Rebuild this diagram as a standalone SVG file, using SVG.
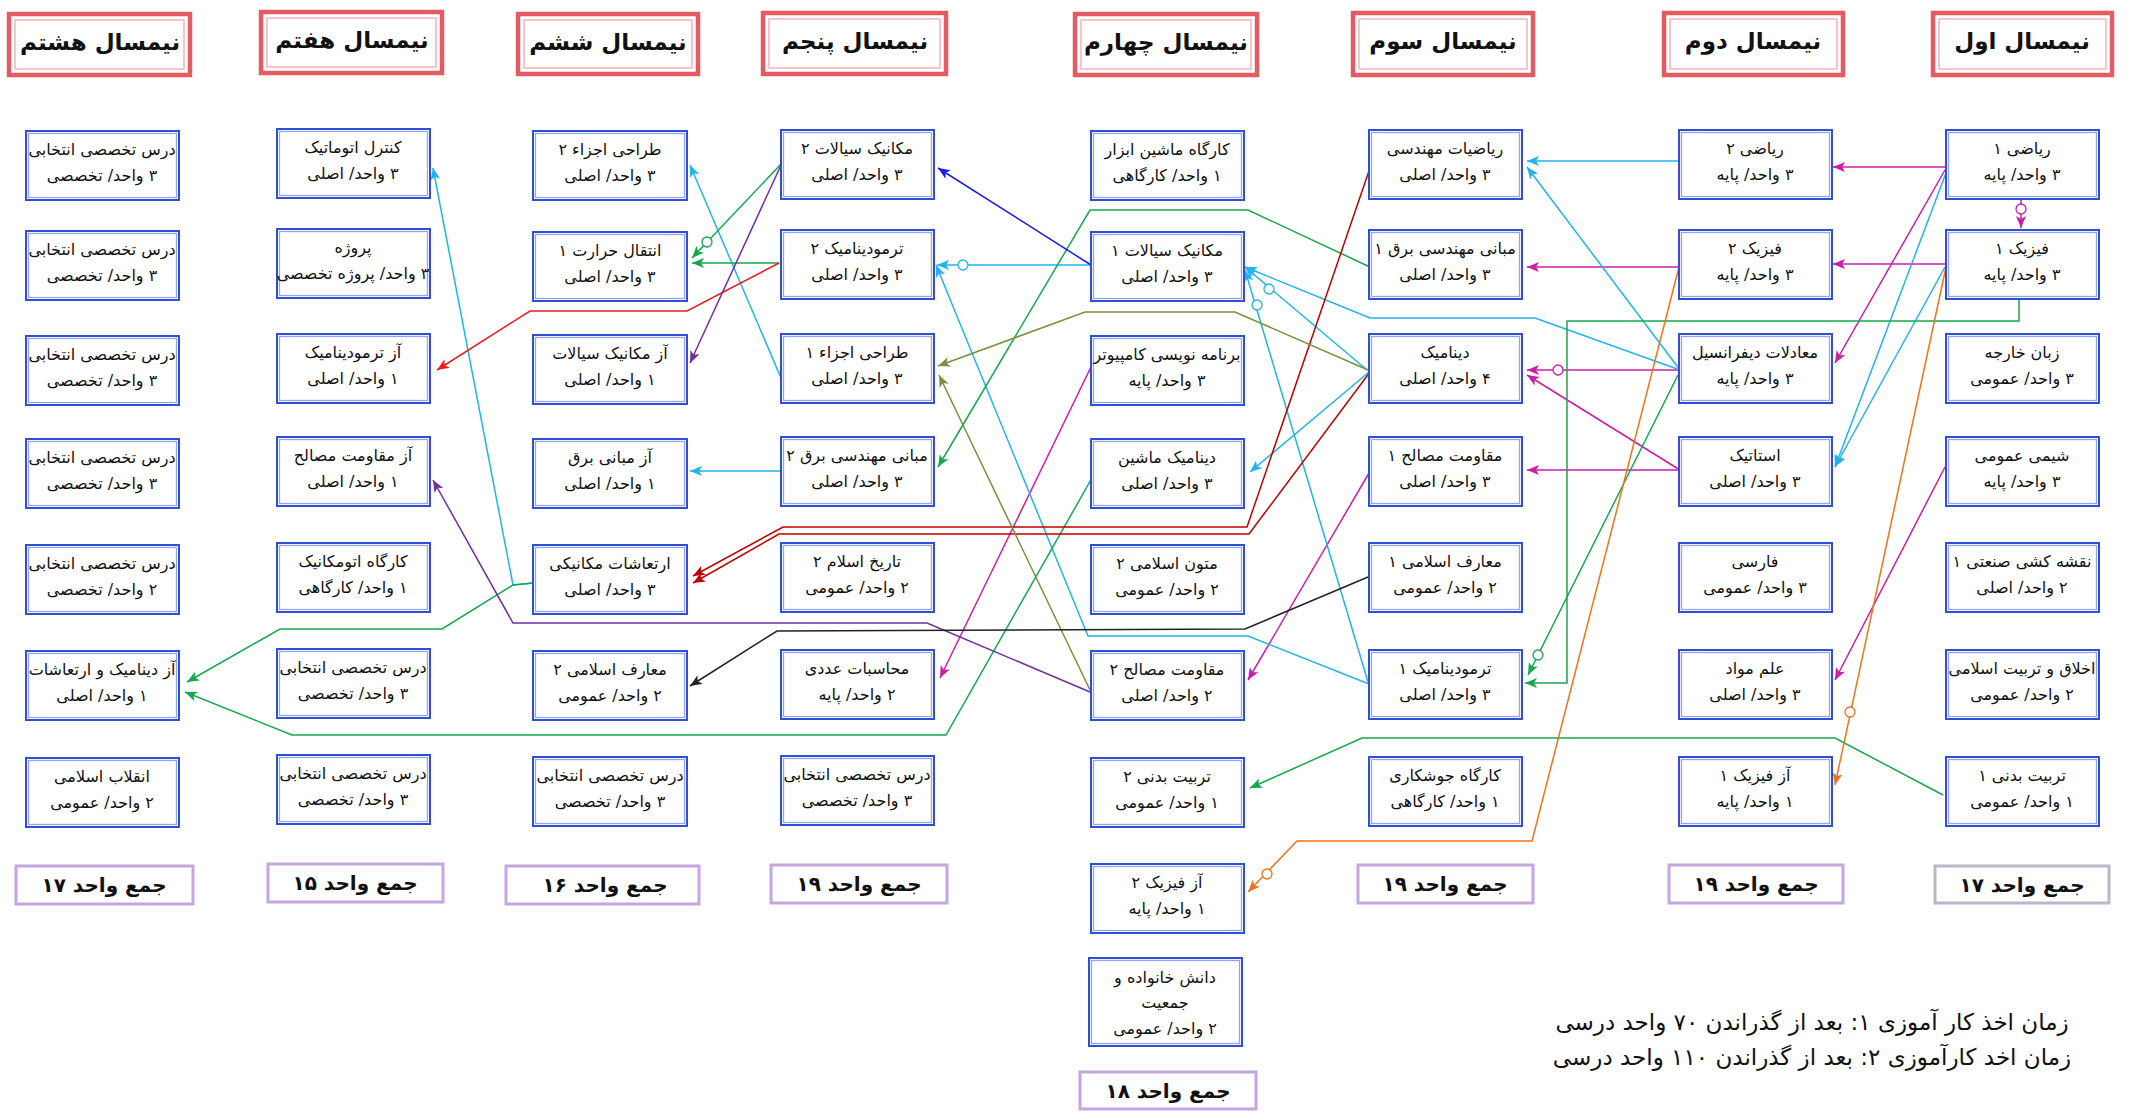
<svg xmlns="http://www.w3.org/2000/svg" width="2134" height="1112" viewBox="0 0 2134 1112">
<style>
.bo{fill:#fff;stroke:#2f4fd6;stroke-width:2}
.bi{fill:none;stroke:#93a5ee;stroke-width:1.3}
.ho{fill:#fff;stroke:#e55b64;stroke-width:4.5}
.hi{fill:none;stroke:#f4b3b8;stroke-width:1.5}
.fo{fill:#fff;stroke:#c6a5e3;stroke-width:3}
.fg{fill:#fff;stroke:#b8b8c8;stroke-width:3}
text{font-family:"DejaVu Sans","Noto Sans",sans-serif;direction:rtl;text-anchor:middle;fill:#111}
.t{font-size:16px}
.h{font-size:23px;font-weight:bold}
.f{font-size:20px;font-weight:bold}
.n{font-size:23px}
.l{fill:none;stroke-width:1.5}
.mg{stroke:#cc1ca8}.cy{stroke:#1fb4ee}.gr{stroke:#14a94c}.or{stroke:#f07318}
.rd{stroke:#ee1c1c}.dr{stroke:#c00000}.bl{stroke:#1a1ae6}.pu{stroke:#7030a0}
.ol{stroke:#76923c}.bk{stroke:#222}
.c{fill:#fff;stroke-width:1.3}
</style>
<defs>
<marker id="a-mg" markerUnits="userSpaceOnUse" markerWidth="13" markerHeight="10" refX="12" refY="5" orient="auto"><path d="M0,0 L12,5 L0,10 L3,5 z" fill="#cc1ca8"/></marker>
<marker id="a-cy" markerUnits="userSpaceOnUse" markerWidth="13" markerHeight="10" refX="12" refY="5" orient="auto"><path d="M0,0 L12,5 L0,10 L3,5 z" fill="#1fb4ee"/></marker>
<marker id="a-gr" markerUnits="userSpaceOnUse" markerWidth="13" markerHeight="10" refX="12" refY="5" orient="auto"><path d="M0,0 L12,5 L0,10 L3,5 z" fill="#14a94c"/></marker>
<marker id="a-or" markerUnits="userSpaceOnUse" markerWidth="13" markerHeight="10" refX="12" refY="5" orient="auto"><path d="M0,0 L12,5 L0,10 L3,5 z" fill="#f07318"/></marker>
<marker id="a-rd" markerUnits="userSpaceOnUse" markerWidth="13" markerHeight="10" refX="12" refY="5" orient="auto"><path d="M0,0 L12,5 L0,10 L3,5 z" fill="#ee1c1c"/></marker>
<marker id="a-dr" markerUnits="userSpaceOnUse" markerWidth="13" markerHeight="10" refX="12" refY="5" orient="auto"><path d="M0,0 L12,5 L0,10 L3,5 z" fill="#c00000"/></marker>
<marker id="a-bl" markerUnits="userSpaceOnUse" markerWidth="13" markerHeight="10" refX="12" refY="5" orient="auto"><path d="M0,0 L12,5 L0,10 L3,5 z" fill="#1a1ae6"/></marker>
<marker id="a-pu" markerUnits="userSpaceOnUse" markerWidth="13" markerHeight="10" refX="12" refY="5" orient="auto"><path d="M0,0 L12,5 L0,10 L3,5 z" fill="#7030a0"/></marker>
<marker id="a-ol" markerUnits="userSpaceOnUse" markerWidth="13" markerHeight="10" refX="12" refY="5" orient="auto"><path d="M0,0 L12,5 L0,10 L3,5 z" fill="#76923c"/></marker>
<marker id="a-bk" markerUnits="userSpaceOnUse" markerWidth="13" markerHeight="10" refX="12" refY="5" orient="auto"><path d="M0,0 L12,5 L0,10 L3,5 z" fill="#222"/></marker>
</defs>
<rect width="2134" height="1112" fill="#fff"/>

<g id="headers">
<g id="h1"><rect class="ho" x="1933" y="13" width="179" height="62"/><rect class="hi" x="1939" y="19" width="167" height="50"/><text class="h" x="2022" y="49">نیمسال اول</text></g>
<g id="h2"><rect class="ho" x="1664" y="13" width="179" height="62"/><rect class="hi" x="1670" y="19" width="167" height="50"/><text class="h" x="1753" y="49">نیمسال دوم</text></g>
<g id="h3"><rect class="ho" x="1353" y="13" width="180" height="62"/><rect class="hi" x="1359" y="19" width="168" height="50"/><text class="h" x="1443" y="49">نیمسال سوم</text></g>
<g id="h4"><rect class="ho" x="1075" y="14" width="182" height="61"/><rect class="hi" x="1081" y="20" width="170" height="49"/><text class="h" x="1166" y="50">نیمسال چهارم</text></g>
<g id="h5"><rect class="ho" x="763" y="13" width="183" height="61"/><rect class="hi" x="769" y="19" width="171" height="49"/><text class="h" x="855" y="49">نیمسال پنجم</text></g>
<g id="h6"><rect class="ho" x="518" y="14" width="180" height="60"/><rect class="hi" x="524" y="20" width="168" height="48"/><text class="h" x="608" y="50">نیمسال ششم</text></g>
<g id="h7"><rect class="ho" x="261" y="12" width="181" height="61"/><rect class="hi" x="267" y="18" width="169" height="49"/><text class="h" x="352" y="48">نیمسال هفتم</text></g>
<g id="h8"><rect class="ho" x="9" y="14" width="181" height="61"/><rect class="hi" x="15" y="20" width="169" height="49"/><text class="h" x="100" y="50">نیمسال هشتم</text></g>
</g>

<g id="connectors">
<!-- magenta -->
<path class="l mg" d="M1945,167 L1833,167" marker-end="url(#a-mg)"/>
<path class="l mg" d="M1945,170 L1835,363" marker-end="url(#a-mg)"/>
<path class="l mg" d="M2021,200 L2021,228" marker-end="url(#a-mg)"/>
<circle class="c mg" cx="2021" cy="209" r="5"/>
<path class="l mg" d="M1945,264 L1833,264" marker-end="url(#a-mg)"/>
<path class="l mg" d="M1680,267 L1527,267" marker-end="url(#a-mg)"/>
<path class="l mg" d="M1680,370 L1527,370" marker-end="url(#a-mg)"/>
<circle class="c mg" cx="1558" cy="370" r="5"/>
<path class="l mg" d="M1680,470 L1527,375" marker-end="url(#a-mg)"/>
<path class="l mg" d="M1680,470 L1527,470" marker-end="url(#a-mg)"/>
<path class="l mg" d="M1945,467 L1835,680" marker-end="url(#a-mg)"/>
<path class="l mg" d="M1369,473 L1248,680" marker-end="url(#a-mg)"/>
<path class="l mg" d="M1091,367 L940,678" marker-end="url(#a-mg)"/>
<!-- cyan -->
<path class="l cy" d="M1679,161 L1527,161" marker-end="url(#a-cy)"/>
<path class="l cy" d="M1680,370 L1527,167" marker-end="url(#a-cy)"/>
<path class="l cy" d="M1680,370 L1535,318 L1370,318 L1245,267" marker-end="url(#a-cy)"/>
<path class="l cy" d="M1946,173 L1835,467" marker-end="url(#a-cy)"/>
<path class="l cy" d="M1945,267 L1835,467" marker-end="url(#a-cy)"/>
<path class="l cy" d="M1091,265 L937,265" marker-end="url(#a-cy)"/>
<circle class="c cy" cx="963" cy="265" r="5"/>
<path class="l cy" d="M1369,684 L1248,636 L1088,636 L936,265" marker-end="url(#a-cy)"/>
<path class="l cy" d="M1368,682 L1245,270" marker-end="url(#a-cy)"/>
<circle class="c cy" cx="1257" cy="305" r="5"/>
<path class="l cy" d="M1367,370 L1245,267" marker-end="url(#a-cy)"/>
<circle class="c cy" cx="1269" cy="289" r="5"/>
<path class="l cy" d="M1369,372 L1250,472" marker-end="url(#a-cy)"/>
<path class="l cy" d="M781,378 L690,165" marker-end="url(#a-cy)"/>
<path class="l cy" d="M781,471 L690,471" marker-end="url(#a-cy)"/>
<path class="l cy" d="M533,583 L513,585 L433,168" marker-end="url(#a-cy)"/>
<!-- green -->
<path class="l gr" d="M2019,300 L2019,321 L1567,321 L1567,683 L1525,683" marker-end="url(#a-gr)"/>
<path class="l gr" d="M1678,375 L1528,675" marker-end="url(#a-gr)"/>
<circle class="c gr" cx="1538" cy="655" r="5"/>
<path class="l gr" d="M1943,795 L1835,738 L1362,738 L1250,788" marker-end="url(#a-gr)"/>
<path class="l gr" d="M1370,267 L1248,210 L1090,210 L938,467" marker-end="url(#a-gr)"/>
<path class="l gr" d="M782,163 L692,258" marker-end="url(#a-gr)"/>
<circle class="c gr" cx="707" cy="242" r="5"/>
<path class="l gr" d="M779,263 L692,263" marker-end="url(#a-gr)"/>
<path class="l gr" d="M533,583 L513,585 L442,629 L280,629 L187,682" marker-end="url(#a-gr)"/>
<path class="l gr" d="M1092,478 L946,735 L292,735 L185,692" marker-end="url(#a-gr)"/>
<!-- orange -->
<path class="l or" d="M1946,267 L1835,785" marker-end="url(#a-or)"/>
<circle class="c or" cx="1850" cy="712" r="5"/>
<path class="l or" d="M1679,267 L1532,841 L1297,841 L1248,892" marker-end="url(#a-or)"/>
<circle class="c or" cx="1267" cy="874" r="5"/>
<!-- red -->
<path class="l rd" d="M779,263 L687,311 L530,311 L437,370" marker-end="url(#a-rd)"/>
<path class="l dr" d="M1370,168 L1247,527 L783,527 L693,576" marker-end="url(#a-dr)"/>
<path class="l dr" d="M1370,372 L1249,534 L779,534 L693,583" marker-end="url(#a-dr)"/>
<!-- blue -->
<path class="l bl" d="M1091,265 L938,168" marker-end="url(#a-bl)"/>
<!-- purple -->
<path class="l pu" d="M782,163 L690,363" marker-end="url(#a-pu)"/>
<path class="l pu" d="M1090,692 L927,623 L513,623 L433,480" marker-end="url(#a-pu)"/>
<!-- olive -->
<path class="l ol" d="M1368,370 L1235,312 L1085,312 L938,366" marker-end="url(#a-ol)"/>
<path class="l ol" d="M1090,690 L939,375" marker-end="url(#a-ol)"/>
<!-- black -->
<path class="l bk" d="M1368,577 L1245,629 L777,631 L690,686" marker-end="url(#a-bk)"/>
</g>

<g id="col1">
<g id="c1r1"><rect class="bo" x="1946" y="130" width="153" height="69"/><rect class="bi" x="1948.5" y="132.5" width="148" height="64"/><text class="t" x="2022" y="154">ریاضی ۱</text><text class="t" x="2022" y="180">۳ واحد/ پایه</text></g>
<g id="c1r2"><rect class="bo" x="1946" y="230" width="153" height="69"/><rect class="bi" x="1948.5" y="232.5" width="148" height="64"/><text class="t" x="2022" y="254">فیزیک ۱</text><text class="t" x="2022" y="280">۳ واحد/ پایه</text></g>
<g id="c1r3"><rect class="bo" x="1946" y="334" width="153" height="69"/><rect class="bi" x="1948.5" y="336.5" width="148" height="64"/><text class="t" x="2022" y="358">زبان خارجه</text><text class="t" x="2022" y="384">۳ واحد/ عمومی</text></g>
<g id="c1r4"><rect class="bo" x="1946" y="437" width="153" height="69"/><rect class="bi" x="1948.5" y="439.5" width="148" height="64"/><text class="t" x="2022" y="461">شیمی عمومی</text><text class="t" x="2022" y="487">۳ واحد/ پایه</text></g>
<g id="c1r5"><rect class="bo" x="1946" y="543" width="153" height="69"/><rect class="bi" x="1948.5" y="545.5" width="148" height="64"/><text class="t" x="2022" y="567">نقشه کشی صنعتی ۱</text><text class="t" x="2022" y="593">۲ واحد/ اصلی</text></g>
<g id="c1r6"><rect class="bo" x="1946" y="650" width="153" height="69"/><rect class="bi" x="1948.5" y="652.5" width="148" height="64"/><text class="t" x="2022" y="674">اخلاق و تربیت اسلامی</text><text class="t" x="2022" y="700">۲ واحد/ عمومی</text></g>
<g id="c1r7"><rect class="bo" x="1946" y="757" width="153" height="69"/><rect class="bi" x="1948.5" y="759.5" width="148" height="64"/><text class="t" x="2022" y="781">تربیت بدنی ۱</text><text class="t" x="2022" y="807">۱ واحد/ عمومی</text></g>
<g id="f1"><rect class="fg" x="1935" y="866" width="174" height="37"/><text class="f" x="2022" y="892">جمع واحد ۱۷</text></g>
</g>

<g id="col2">
<g id="c2r1"><rect class="bo" x="1679" y="130" width="153" height="69"/><rect class="bi" x="1681.5" y="132.5" width="148" height="64"/><text class="t" x="1755" y="154">ریاضی ۲</text><text class="t" x="1755" y="180">۳ واحد/ پایه</text></g>
<g id="c2r2"><rect class="bo" x="1679" y="230" width="153" height="69"/><rect class="bi" x="1681.5" y="232.5" width="148" height="64"/><text class="t" x="1755" y="254">فیزیک ۲</text><text class="t" x="1755" y="280">۳ واحد/ پایه</text></g>
<g id="c2r3"><rect class="bo" x="1679" y="334" width="153" height="69"/><rect class="bi" x="1681.5" y="336.5" width="148" height="64"/><text class="t" x="1755" y="358">معادلات دیفرانسیل</text><text class="t" x="1755" y="384">۳ واحد/ پایه</text></g>
<g id="c2r4"><rect class="bo" x="1679" y="437" width="153" height="69"/><rect class="bi" x="1681.5" y="439.5" width="148" height="64"/><text class="t" x="1755" y="461">استاتیک</text><text class="t" x="1755" y="487">۳ واحد/ اصلی</text></g>
<g id="c2r5"><rect class="bo" x="1679" y="543" width="153" height="69"/><rect class="bi" x="1681.5" y="545.5" width="148" height="64"/><text class="t" x="1755" y="567">فارسی</text><text class="t" x="1755" y="593">۳ واحد/ عمومی</text></g>
<g id="c2r6"><rect class="bo" x="1679" y="650" width="153" height="69"/><rect class="bi" x="1681.5" y="652.5" width="148" height="64"/><text class="t" x="1755" y="674">علم مواد</text><text class="t" x="1755" y="700">۳ واحد/ اصلی</text></g>
<g id="c2r7"><rect class="bo" x="1679" y="757" width="153" height="69"/><rect class="bi" x="1681.5" y="759.5" width="148" height="64"/><text class="t" x="1755" y="781">آز فیزیک ۱</text><text class="t" x="1755" y="807">۱ واحد/ پایه</text></g>
<g id="f2"><rect class="fo" x="1669" y="865" width="174" height="38"/><text class="f" x="1756" y="891">جمع واحد ۱۹</text></g>
</g>

<g id="col3">
<g id="c3r1"><rect class="bo" x="1369" y="130" width="153" height="69"/><rect class="bi" x="1371.5" y="132.5" width="148" height="64"/><text class="t" x="1445" y="154">ریاضیات مهندسی</text><text class="t" x="1445" y="180">۳ واحد/ اصلی</text></g>
<g id="c3r2"><rect class="bo" x="1369" y="230" width="153" height="69"/><rect class="bi" x="1371.5" y="232.5" width="148" height="64"/><text class="t" x="1445" y="254">مبانی مهندسی برق ۱</text><text class="t" x="1445" y="280">۳ واحد/ اصلی</text></g>
<g id="c3r3"><rect class="bo" x="1369" y="334" width="153" height="69"/><rect class="bi" x="1371.5" y="336.5" width="148" height="64"/><text class="t" x="1445" y="358">دینامیک</text><text class="t" x="1445" y="384">۴ واحد/ اصلی</text></g>
<g id="c3r4"><rect class="bo" x="1369" y="437" width="153" height="69"/><rect class="bi" x="1371.5" y="439.5" width="148" height="64"/><text class="t" x="1445" y="461">مقاومت مصالح ۱</text><text class="t" x="1445" y="487">۳ واحد/ اصلی</text></g>
<g id="c3r5"><rect class="bo" x="1369" y="543" width="153" height="69"/><rect class="bi" x="1371.5" y="545.5" width="148" height="64"/><text class="t" x="1445" y="567">معارف اسلامی ۱</text><text class="t" x="1445" y="593">۲ واحد/ عمومی</text></g>
<g id="c3r6"><rect class="bo" x="1369" y="650" width="153" height="69"/><rect class="bi" x="1371.5" y="652.5" width="148" height="64"/><text class="t" x="1445" y="674">ترمودینامیک ۱</text><text class="t" x="1445" y="700">۳ واحد/ اصلی</text></g>
<g id="c3r7"><rect class="bo" x="1369" y="757" width="153" height="69"/><rect class="bi" x="1371.5" y="759.5" width="148" height="64"/><text class="t" x="1445" y="781">کارگاه جوشکاری</text><text class="t" x="1445" y="807">۱ واحد/ کارگاهی</text></g>
<g id="f3"><rect class="fo" x="1358" y="865" width="175" height="38"/><text class="f" x="1445" y="891">جمع واحد ۱۹</text></g>
</g>

<g id="col4">
<g id="c4r1"><rect class="bo" x="1091" y="131" width="153" height="69"/><rect class="bi" x="1093.5" y="133.5" width="148" height="64"/><text class="t" x="1167" y="155">کارگاه ماشین ابزار</text><text class="t" x="1167" y="181">۱ واحد/ کارگاهی</text></g>
<g id="c4r2"><rect class="bo" x="1091" y="232" width="153" height="69"/><rect class="bi" x="1093.5" y="234.5" width="148" height="64"/><text class="t" x="1167" y="256">مکانیک سیالات ۱</text><text class="t" x="1167" y="282">۳ واحد/ اصلی</text></g>
<g id="c4r3"><rect class="bo" x="1091" y="336" width="153" height="69"/><rect class="bi" x="1093.5" y="338.5" width="148" height="64"/><text class="t" x="1167" y="360">برنامه نویسی کامپیوتر</text><text class="t" x="1167" y="386">۳ واحد/ پایه</text></g>
<g id="c4r4"><rect class="bo" x="1091" y="439" width="153" height="69"/><rect class="bi" x="1093.5" y="441.5" width="148" height="64"/><text class="t" x="1167" y="463">دینامیک ماشین</text><text class="t" x="1167" y="489">۳ واحد/ اصلی</text></g>
<g id="c4r5"><rect class="bo" x="1091" y="545" width="153" height="69"/><rect class="bi" x="1093.5" y="547.5" width="148" height="64"/><text class="t" x="1167" y="569">متون اسلامی ۲</text><text class="t" x="1167" y="595">۲ واحد/ عمومی</text></g>
<g id="c4r6"><rect class="bo" x="1091" y="651" width="153" height="69"/><rect class="bi" x="1093.5" y="653.5" width="148" height="64"/><text class="t" x="1167" y="675">مقاومت مصالح ۲</text><text class="t" x="1167" y="701">۲ واحد/ اصلی</text></g>
<g id="c4r7"><rect class="bo" x="1091" y="758" width="153" height="69"/><rect class="bi" x="1093.5" y="760.5" width="148" height="64"/><text class="t" x="1167" y="782">تربیت بدنی ۲</text><text class="t" x="1167" y="808">۱ واحد/ عمومی</text></g>
<g id="c4r8"><rect class="bo" x="1091" y="864" width="153" height="69"/><rect class="bi" x="1093.5" y="866.5" width="148" height="64"/><text class="t" x="1167" y="888">آز فیزیک ۲</text><text class="t" x="1167" y="914">۱ واحد/ پایه</text></g>
<g id="c4r9"><rect class="bo" x="1089" y="958" width="153" height="88"/><rect class="bi" x="1091.5" y="960.5" width="148" height="83"/><text class="t" x="1165" y="983">دانش خانواده و</text><text class="t" x="1165" y="1008">جمعیت</text><text class="t" x="1165" y="1034">۲ واحد/ عمومی</text></g>
<g id="f4"><rect class="fo" x="1080" y="1072" width="176" height="37"/><text class="f" x="1168" y="1098">جمع واحد ۱۸</text></g>
</g>

<g id="col5">
<g id="c5r1"><rect class="bo" x="781" y="130" width="153" height="69"/><rect class="bi" x="783.5" y="132.5" width="148" height="64"/><text class="t" x="857" y="154">مکانیک سیالات ۲</text><text class="t" x="857" y="180">۳ واحد/ اصلی</text></g>
<g id="c5r2"><rect class="bo" x="781" y="230" width="153" height="69"/><rect class="bi" x="783.5" y="232.5" width="148" height="64"/><text class="t" x="857" y="254">ترمودینامیک ۲</text><text class="t" x="857" y="280">۳ واحد/ اصلی</text></g>
<g id="c5r3"><rect class="bo" x="781" y="334" width="153" height="69"/><rect class="bi" x="783.5" y="336.5" width="148" height="64"/><text class="t" x="857" y="358">طراحی اجزاء ۱</text><text class="t" x="857" y="384">۳ واحد/ اصلی</text></g>
<g id="c5r4"><rect class="bo" x="781" y="437" width="153" height="69"/><rect class="bi" x="783.5" y="439.5" width="148" height="64"/><text class="t" x="857" y="461">مبانی مهندسی برق ۲</text><text class="t" x="857" y="487">۳ واحد/ اصلی</text></g>
<g id="c5r5"><rect class="bo" x="781" y="543" width="153" height="69"/><rect class="bi" x="783.5" y="545.5" width="148" height="64"/><text class="t" x="857" y="567">تاریخ اسلام ۲</text><text class="t" x="857" y="593">۲ واحد/ عمومی</text></g>
<g id="c5r6"><rect class="bo" x="781" y="650" width="153" height="69"/><rect class="bi" x="783.5" y="652.5" width="148" height="64"/><text class="t" x="857" y="674">محاسبات عددی</text><text class="t" x="857" y="700">۲ واحد/ پایه</text></g>
<g id="c5r7"><rect class="bo" x="781" y="756" width="153" height="69"/><rect class="bi" x="783.5" y="758.5" width="148" height="64"/><text class="t" x="857" y="780">درس تخصصی انتخابی</text><text class="t" x="857" y="806">۳ واحد/ تخصصی</text></g>
<g id="f5"><rect class="fo" x="771" y="865" width="176" height="38"/><text class="f" x="859" y="891">جمع واحد ۱۹</text></g>
</g>

<g id="col6">
<g id="c6r1"><rect class="bo" x="533" y="131" width="154" height="69"/><rect class="bi" x="535.5" y="133.5" width="149" height="64"/><text class="t" x="610" y="155">طراحی اجزاء ۲</text><text class="t" x="610" y="181">۳ واحد/ اصلی</text></g>
<g id="c6r2"><rect class="bo" x="533" y="232" width="154" height="69"/><rect class="bi" x="535.5" y="234.5" width="149" height="64"/><text class="t" x="610" y="256">انتقال حرارت ۱</text><text class="t" x="610" y="282">۳ واحد/ اصلی</text></g>
<g id="c6r3"><rect class="bo" x="533" y="335" width="154" height="69"/><rect class="bi" x="535.5" y="337.5" width="149" height="64"/><text class="t" x="610" y="359">آز مکانیک سیالات</text><text class="t" x="610" y="385">۱ واحد/ اصلی</text></g>
<g id="c6r4"><rect class="bo" x="533" y="439" width="154" height="69"/><rect class="bi" x="535.5" y="441.5" width="149" height="64"/><text class="t" x="610" y="463">آز مبانی برق</text><text class="t" x="610" y="489">۱ واحد/ اصلی</text></g>
<g id="c6r5"><rect class="bo" x="533" y="545" width="154" height="69"/><rect class="bi" x="535.5" y="547.5" width="149" height="64"/><text class="t" x="610" y="569">ارتعاشات مکانیکی</text><text class="t" x="610" y="595">۳ واحد/ اصلی</text></g>
<g id="c6r6"><rect class="bo" x="533" y="651" width="154" height="69"/><rect class="bi" x="535.5" y="653.5" width="149" height="64"/><text class="t" x="610" y="675">معارف اسلامی ۲</text><text class="t" x="610" y="701">۲ واحد/ عمومی</text></g>
<g id="c6r7"><rect class="bo" x="533" y="757" width="154" height="69"/><rect class="bi" x="535.5" y="759.5" width="149" height="64"/><text class="t" x="610" y="781">درس تخصصی انتخابی</text><text class="t" x="610" y="807">۳ واحد/ تخصصی</text></g>
<g id="f6"><rect class="fo" x="506" y="866" width="193" height="38"/><text class="f" x="605" y="892">جمع واحد ۱۶</text></g>
</g>

<g id="col7">
<g id="c7r1"><rect class="bo" x="277" y="129" width="153" height="69"/><rect class="bi" x="279.5" y="131.5" width="148" height="64"/><text class="t" x="353" y="153">کنترل اتوماتیک</text><text class="t" x="353" y="179">۳ واحد/ اصلی</text></g>
<g id="c7r2"><rect class="bo" x="277" y="229" width="153" height="69"/><rect class="bi" x="279.5" y="231.5" width="148" height="64"/><text class="t" x="353" y="253">پروژه</text><text class="t" x="353" y="279">۳ واحد/ پروژه تخصصی</text></g>
<g id="c7r3"><rect class="bo" x="277" y="334" width="153" height="69"/><rect class="bi" x="279.5" y="336.5" width="148" height="64"/><text class="t" x="353" y="358">آز ترمودینامیک</text><text class="t" x="353" y="384">۱ واحد/ اصلی</text></g>
<g id="c7r4"><rect class="bo" x="277" y="437" width="153" height="69"/><rect class="bi" x="279.5" y="439.5" width="148" height="64"/><text class="t" x="353" y="461">آز مقاومت مصالح</text><text class="t" x="353" y="487">۱ واحد/ اصلی</text></g>
<g id="c7r5"><rect class="bo" x="277" y="543" width="153" height="69"/><rect class="bi" x="279.5" y="545.5" width="148" height="64"/><text class="t" x="353" y="567">کارگاه اتومکانیک</text><text class="t" x="353" y="593">۱ واحد/ کارگاهی</text></g>
<g id="c7r6"><rect class="bo" x="277" y="649" width="153" height="69"/><rect class="bi" x="279.5" y="651.5" width="148" height="64"/><text class="t" x="353" y="673">درس تخصصی انتخابی</text><text class="t" x="353" y="699">۳ واحد/ تخصصی</text></g>
<g id="c7r7"><rect class="bo" x="277" y="755" width="153" height="69"/><rect class="bi" x="279.5" y="757.5" width="148" height="64"/><text class="t" x="353" y="779">درس تخصصی انتخابی</text><text class="t" x="353" y="805">۳ واحد/ تخصصی</text></g>
<g id="f7"><rect class="fo" x="268" y="864" width="175" height="38"/><text class="f" x="355" y="890">جمع واحد ۱۵</text></g>
</g>

<g id="col8">
<g id="c8r1"><rect class="bo" x="26" y="131" width="153" height="69"/><rect class="bi" x="28.5" y="133.5" width="148" height="64"/><text class="t" x="102" y="155">درس تخصصی انتخابی</text><text class="t" x="102" y="181">۳ واحد/ تخصصی</text></g>
<g id="c8r2"><rect class="bo" x="26" y="231" width="153" height="69"/><rect class="bi" x="28.5" y="233.5" width="148" height="64"/><text class="t" x="102" y="255">درس تخصصی انتخابی</text><text class="t" x="102" y="281">۳ واحد/ تخصصی</text></g>
<g id="c8r3"><rect class="bo" x="26" y="336" width="153" height="69"/><rect class="bi" x="28.5" y="338.5" width="148" height="64"/><text class="t" x="102" y="360">درس تخصصی انتخابی</text><text class="t" x="102" y="386">۳ واحد/ تخصصی</text></g>
<g id="c8r4"><rect class="bo" x="26" y="439" width="153" height="69"/><rect class="bi" x="28.5" y="441.5" width="148" height="64"/><text class="t" x="102" y="463">درس تخصصی انتخابی</text><text class="t" x="102" y="489">۳ واحد/ تخصصی</text></g>
<g id="c8r5"><rect class="bo" x="26" y="545" width="153" height="69"/><rect class="bi" x="28.5" y="547.5" width="148" height="64"/><text class="t" x="102" y="569">درس تخصصی انتخابی</text><text class="t" x="102" y="595">۲ واحد/ تخصصی</text></g>
<g id="c8r6"><rect class="bo" x="26" y="651" width="153" height="69"/><rect class="bi" x="28.5" y="653.5" width="148" height="64"/><text class="t" x="102" y="675">آز دینامیک و ارتعاشات</text><text class="t" x="102" y="701">۱ واحد/ اصلی</text></g>
<g id="c8r7"><rect class="bo" x="26" y="758" width="153" height="69"/><rect class="bi" x="28.5" y="760.5" width="148" height="64"/><text class="t" x="102" y="782">انقلاب اسلامی</text><text class="t" x="102" y="808">۲ واحد/ عمومی</text></g>
<g id="f8"><rect class="fo" x="16" y="866" width="177" height="38"/><text class="f" x="104" y="892">جمع واحد ۱۷</text></g>
</g>

<g id="notes">
<text class="n" x="1812" y="1030">زمان اخذ کار آموزی ۱: بعد از گذراندن ۷۰ واحد درسی</text>
<text class="n" x="1812" y="1065">زمان اخد کارآموزی ۲: بعد از گذراندن ۱۱۰ واحد درسی</text>
</g>
</svg>
